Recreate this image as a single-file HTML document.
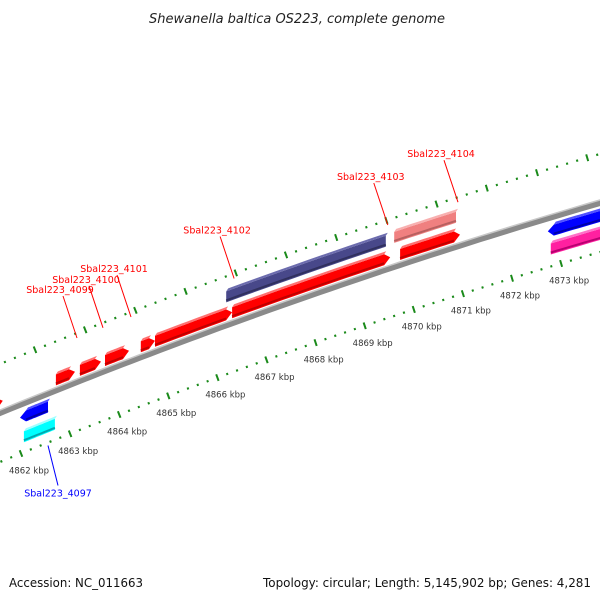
<!DOCTYPE html>
<html><head><meta charset="utf-8"><style>
html,body{margin:0;padding:0;background:#fff;}
svg{display:block;font-family:"DejaVu Sans","Liberation Sans",sans-serif;}
</style></head><body>
<svg id="map" width="600" height="600" viewBox="0 0 600 600" xmlns="http://www.w3.org/2000/svg">
<text x="297" y="23" text-anchor="middle" font-size="13" font-style="italic" fill="#222">Shewanella baltica OS223, complete genome</text>
<g id="ticks"></g>
<g id="genes"></g>
<g id="labels"></g>
<text x="9" y="587" font-size="12" fill="#111" textLength="134" lengthAdjust="spacingAndGlyphs">Accession: NC_011663</text>
<text x="591" y="587" text-anchor="end" font-size="12" fill="#111" textLength="328" lengthAdjust="spacingAndGlyphs">Topology: circular; Length: 5,145,902 bp; Genes: 4,281</text>
</svg>
<script>
// ---- data ----
const kbpTicks = [4862,4863,4864,4865,4866,4867,4868,4869,4870,4871,4872,4873];
const tickLabels = ["4862 kbp","4863 kbp","4864 kbp","4865 kbp","4866 kbp","4867 kbp","4868 kbp","4869 kbp","4870 kbp","4871 kbp","4872 kbp","4873 kbp"];
const geneNames = ["left-red","Sbal223_4099","Sbal223_4100","Sbal223_4101","small-red","Sbal223_4102","big-red","Sbal223_4103","Sbal223_4104","red-4104b","blue-right","magenta-right","Sbal223_4097","cyan-left"];
const geneStart = [4861.30,4862.71,4863.20,4863.71,4864.44,4864.73,4866.30,4866.18,4869.60,4869.72,4872.73,4872.79,4861.98,4862.06];
const geneEnd   = [4861.63,4863.10,4863.63,4864.20,4864.73,4866.30,4869.52,4869.43,4870.86,4870.94,4874.40,4874.40,4862.55,4862.69];
const geneLane  = ["red","red","red","red","red","red","red","purple","pink","red","blue","magenta","blue","cyan"];
const geneDir   = [1,1,1,1,1,1,1,0,0,1,-1,0,-1,0];
const labelGenes = ["Sbal223_4099","Sbal223_4100","Sbal223_4101","Sbal223_4102","Sbal223_4103","Sbal223_4104","Sbal223_4097"];

// ---- geometry ----
const B=-0.41, C=0.0001;
const curve=(a,x)=>a+B*x+C*x*x;
const slope=x=>B+2*C*x;
const xLow=k=>21+49.1*(k-4862);
const xUp=k=>35+50.2*(k-4863);
const laneA={red:402,purple:384,pink:383,blue:426,magenta:444,cyan:446};
const laneCol={red:["#ff0000","#ff7070","#c00000"],purple:["#48488a","#6c6cae","#30305e"],pink:["#f08080","#f8b0b0","#b86060"],blue:["#0000ff","#5050ff","#0000a8"],magenta:["#ff20a0","#ff70c8","#b80070"],cyan:["#00ffff","#a0ffff","#00a8b0"]};
const NS="http://www.w3.org/2000/svg";
const svg=document.getElementById('map');
function mk(tag,attrs,parent){const e=document.createElementNS(NS,tag);for(const k in attrs)e.setAttribute(k,attrs[k]);parent.appendChild(e);return e;}
const tg=document.getElementById('ticks'), gg=document.getElementById('genes'), lg=document.getElementById('labels');

// backbone
{
  let p1=[],p2=[],p3=[];
  for(let x=-10;x<=610;x+=10){p1.push(x+','+(curve(413,x)-3).toFixed(1));p2.push(x+','+(curve(413,x)).toFixed(1));}
  const bb=mk('polyline',{points:p2.join(' '),fill:'none',stroke:'#8a8a8a','stroke-width':6},svg);
  
  
  const hl=mk('polyline',{points:p1.join(' '),fill:'none',stroke:'#c8c8c8','stroke-width':1.5},svg);
  
  
  svg.insertBefore(hl,tg);svg.insertBefore(bb,hl);
}

function tick(x,a,len,w,name){
  const y=curve(a,x), s=slope(x), n=Math.hypot(1,s);
  const nx=s/n, ny=-1/n; // normal (upward)
  const t=mk('line',{x1:(x-nx*len/2).toFixed(1),y1:(y-ny*len/2).toFixed(1),x2:(x+nx*len/2).toFixed(1),y2:(y+ny*len/2).toFixed(1),stroke:'#1a8a1a','stroke-width':w},tg);
  
  
}
// lower ticks
for(let k=4861.4;k<=4874.01;k+=0.2){
  const kr=Math.round(k*10)/10, major=Math.abs(kr-Math.round(kr))<0.01;
  const x=xLow(kr); if(x<-5||x>605)continue;
  tick(x,462,major?7:2.2,2,major?'lower-major-tick':'lower-minor-tick');
}
// upper ticks
for(let k=4862.2;k<=4875.01;k+=0.2){
  const kr=Math.round(k*10)/10, major=Math.abs(kr-Math.round(kr))<0.01;
  const x=xUp(kr); if(x<-5||x>605)continue;
  tick(x,364,major?7:2.2,2,major?'upper-major-tick':'upper-minor-tick');
}
// tick labels
kbpTicks.forEach((k,i)=>{
  const x=xLow(k), y=curve(462,x);
  const t=mk('text',{x:(x+8).toFixed(1),y:(y+20).toFixed(1),'text-anchor':'middle','font-size':8.5,fill:'#333'},tg);
  t.textContent=tickLabels[i];
  
  
});

// genes
function gene(i){
  const lane=geneLane[i], a=laneA[lane], col=laneCol[lane], dir=geneDir[i];
  const x1=xLow(geneStart[i]), x2=xLow(geneEnd[i]);
  const ah=6, h1=5, h2=6;
  const bx1=dir<0?x1+ah:x1, bx2=dir>0?x2-ah:x2;
  const N=12, top=[],bot=[],face=[];
  for(let j=0;j<=N;j++){const x=bx1+(bx2-bx1)*j/N;top.push([x,curve(a,x)-h1]);bot.push([x,curve(a,x)+h2]);}
  let pts=[...top];
  if(dir>0)pts.push([x2,curve(a,x2)]);
  pts=pts.concat(bot.slice().reverse());
  if(dir<0)pts.push([x1,curve(a,x1)]);
  const g=mk('g',{},gg);
  
  
  mk('polygon',{points:pts.map(p=>p[0].toFixed(1)+','+p[1].toFixed(1)).join(' '),fill:col[0]},g);
  // top face
  const ft=top.map(p=>[p[0]+2,p[1]-3]);
  const fpts=top.concat(ft.slice().reverse());
  const f=mk('polygon',{points:fpts.map(p=>p[0].toFixed(1)+','+p[1].toFixed(1)).join(' '),fill:col[1]},g);
  // bottom shade
  const bs=bot.map(p=>[p[0],p[1]-2]);
  mk('polyline',{points:bs.map(p=>p[0].toFixed(1)+','+p[1].toFixed(1)).join(' '),fill:'none',stroke:col[2],'stroke-width':2},g);
}
geneNames.forEach((n,i)=>gene(i));

// labels with leader lines
labelGenes.forEach(name=>{
  const i=geneNames.indexOf(name);
  const lane=geneLane[i];
  const below=lane==='blue'||lane==='cyan';
  let ex,ey,tx,ty;
  if(!below){
    const xe=xLow(geneEnd[i]);
    ex=xe+2; ey=curve(364,ex)+5;
    // label above, offset up-left
    tx=ex-17; ty=ey-48;
  } else {
    const xm=xLow((geneStart[i]+geneEnd[i])/2)+14;
    ex=xm; ey=curve(462,ex)+3;
    tx=ex+10; ty=ey+40;
  }
  const l=mk('line',{x1:ex.toFixed(1),y1:ey.toFixed(1),x2:(below?tx:tx+3).toFixed(1),y2:(below?ty:ty+6).toFixed(1),stroke:below?'#0000ff':'#ff0000','stroke-width':1},lg);
  
  
  const t=mk('text',{x:tx.toFixed(1),y:(below?ty+11:ty+3).toFixed(1),'text-anchor':'middle','font-size':9.5,fill:below?'#0000ff':'#ff0000'},lg);
  t.textContent=name;
  
  
});
</script>
</body></html>
